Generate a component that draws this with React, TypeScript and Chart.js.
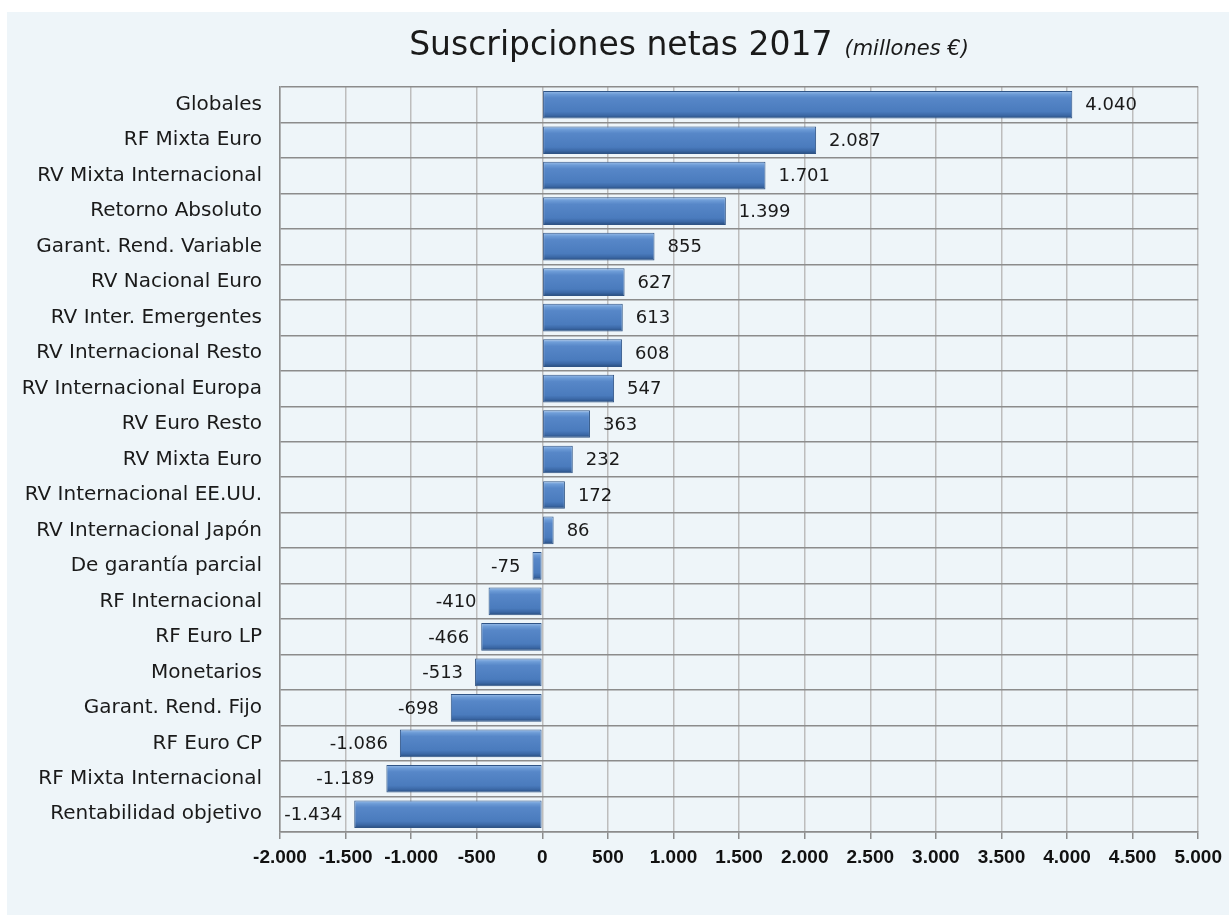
import React, { useEffect, useRef } from "react";
import { Chart, registerables } from "chart.js";

Chart.register(...registerables);

const categories: string[] = [
  "Globales",
  "RF Mixta Euro",
  "RV Mixta Internacional",
  "Retorno Absoluto",
  "Garant. Rend. Variable",
  "RV Nacional Euro",
  "RV Inter. Emergentes",
  "RV Internacional Resto",
  "RV Internacional Europa",
  "RV Euro Resto",
  "RV Mixta Euro",
  "RV Internacional EE.UU.",
  "RV Internacional Japón",
  "De garantía parcial",
  "RF Internacional",
  "RF Euro LP",
  "Monetarios",
  "Garant. Rend. Fijo",
  "RF Euro CP",
  "RF Mixta Internacional",
  "Rentabilidad objetivo",
];

const values: number[] = [
  4040, 2087, 1701, 1399, 855, 627, 613, 608, 547, 363, 232, 172, 86, -75,
  -410, -466, -513, -698, -1086, -1189, -1434,
];

const xMin = -2000;
const xMax = 5000;
const xStep = 500;

const titleMain = "Suscripciones netas 2017";
const titleSub = "(millones €)";

function fmt(v: number): string {
  const neg = v < 0;
  const s = Math.round(Math.abs(v)).toString();
  const parts: string[] = [];
  for (let i = s.length; i > 0; i -= 3) {
    parts.unshift(s.slice(Math.max(0, i - 3), i));
  }
  return (neg ? "-" : "") + parts.join(".");
}

const BAR_PCT = 0.78;
const FONT = "'DejaVu Sans', sans-serif";

export default function App() {
  const canvasRef = useRef<HTMLCanvasElement | null>(null);

  useEffect(() => {
    document.body.style.margin = "0";
    const canvas = canvasRef.current;
    if (!canvas) return;

    const titlePlugin = {
      id: "customTitle",
      afterDraw(chart: any) {
        const ctx = chart.ctx as CanvasRenderingContext2D;
        ctx.save();
        ctx.fillStyle = "#1a1a1a";
        ctx.textBaseline = "alphabetic";
        ctx.textAlign = "left";
        const f1 = `33px ${FONT}`;
        const f2 = `italic 21px ${FONT}`;
        ctx.font = f1;
        const w1 = ctx.measureText(titleMain).width;
        ctx.font = f2;
        const w2 = ctx.measureText(titleSub).width;
        const gap = 12;
        const total = w1 + gap + w2;
        const cx = 682;
        const x0 = cx - total / 2;
        ctx.font = f1;
        ctx.fillText(titleMain, x0, 43);
        ctx.font = f2;
        ctx.fillText(titleSub, x0 + w1 + gap, 43);
        ctx.restore();
      },
    };

    const labelPlugin = {
      id: "valueLabels",
      afterDatasetsDraw(chart: any) {
        const ctx = chart.ctx as CanvasRenderingContext2D;
        const meta = chart.getDatasetMeta(0);
        ctx.save();
        ctx.font = `18px ${FONT}`;
        ctx.fillStyle = "#1a1a1a";
        ctx.textBaseline = "middle";
        meta.data.forEach((bar: any, i: number) => {
          const v = values[i];
          const txt = fmt(v);
          if (v >= 0) {
            ctx.textAlign = "left";
            ctx.fillText(txt, bar.x + 13, bar.y + 1);
          } else {
            ctx.textAlign = "right";
            ctx.fillText(txt, bar.x - 12, bar.y + 1);
          }
        });
        ctx.restore();
      },
    };

    const chart = new Chart(canvas, {
      type: "bar",
      data: {
        labels: categories,
        datasets: [
          {
            data: values,
            backgroundColor: (c: any) => {
              const ch = c.chart;
              if (!ch.chartArea || !ch.scales || !ch.scales.y) return "#4F81BD";
              const ys = ch.scales.y;
              const center = ys.getPixelForValue(c.dataIndex);
              const h = (ys.height / categories.length) * BAR_PCT;
              const g = ch.ctx.createLinearGradient(0, center - h / 2, 0, center + h / 2);
              g.addColorStop(0, "#9CBFEA");
              g.addColorStop(0.12, "#6C9BD6");
              g.addColorStop(0.25, "#5787C8");
              g.addColorStop(0.75, "#4A7BBD");
              g.addColorStop(0.88, "#3B68A6");
              g.addColorStop(1, "#284C7C");
              return g;
            },
            borderColor: "#2F5486",
            borderWidth: 1,
            borderSkipped: false,
            barPercentage: BAR_PCT,
            categoryPercentage: 1,
          },
        ],
      },
      options: {
        indexAxis: "y",
        animation: false,
        responsive: true,
        maintainAspectRatio: false,
        layout: { padding: { top: 75, right: 27, bottom: 0, left: 0 } },
        plugins: {
          legend: { display: false },
          tooltip: { enabled: false },
          title: { display: false },
        },
        scales: {
          x: {
            type: "linear",
            min: xMin,
            max: xMax,
            ticks: {
              stepSize: xStep,
              color: "#111",
              font: { family: "'Liberation Sans', Arial, sans-serif", size: 19, weight: "bold" },
              padding: 7,
              maxRotation: 0,
              autoSkip: false,
              callback: (v: any) => fmt(Number(v)),
            },
            grid: {
              color: "#BDBDBD",
              lineWidth: 1.5,
              tickColor: "#8C8C8C",
              tickLength: 7,
              drawTicks: true,
            },
            border: { display: true, color: "#8C8C8C", width: 1.5 },
            afterFit: (s: any) => {
              s.height = 83;
            },
          },
          y: {
            type: "category",
            ticks: {
              color: "#1a1a1a",
              font: { family: FONT, size: 20 },
              padding: 18,
              autoSkip: false,
            },
            grid: {
              color: "#8C8C8C",
              lineWidth: 1.5,
              offset: true,
              drawTicks: false,
            },
            border: { display: true, color: "#8C8C8C", width: 1.5 },
            afterFit: (s: any) => {
              s.width = 273;
            },
          },
        },
      },
      plugins: [titlePlugin, labelPlugin],
    } as any);

    return () => {
      chart.destroy();
    };
  }, []);

  return (
    <div style={{ position: "relative", width: 1229, height: 915, background: "#ffffff" }}>
      <div
        style={{
          position: "absolute",
          left: 7,
          top: 12,
          width: 1222,
          height: 903,
          background: "#EEF5F9",
        }}
      >
        <canvas ref={canvasRef} />
      </div>
    </div>
  );
}
